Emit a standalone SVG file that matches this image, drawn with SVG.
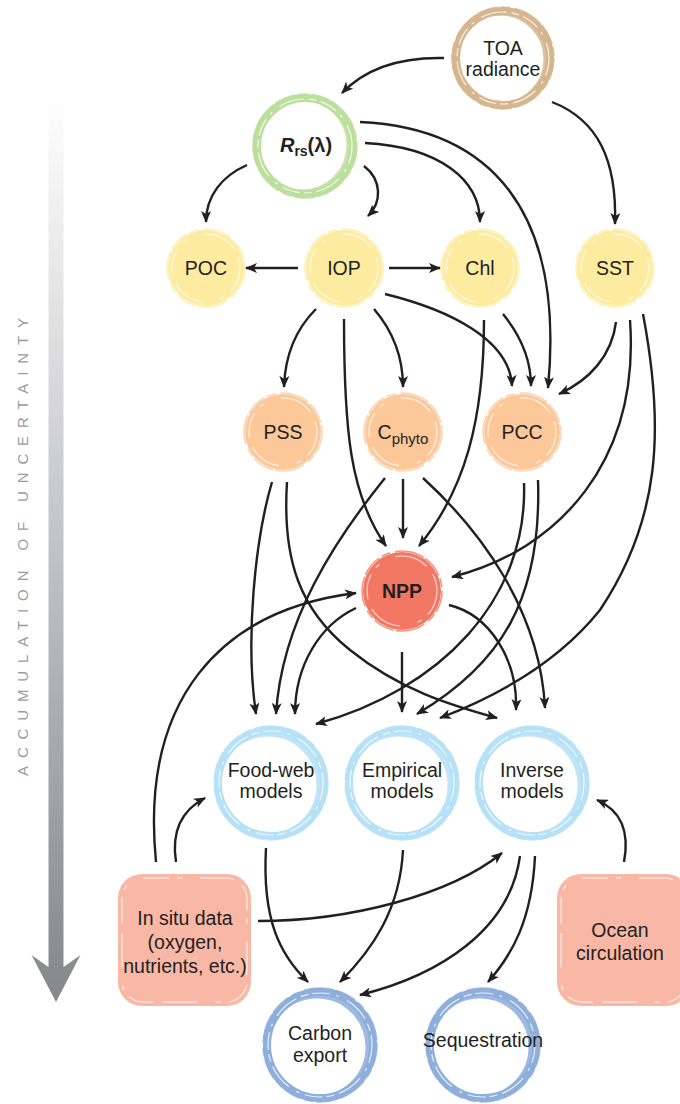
<svg xmlns="http://www.w3.org/2000/svg" width="680" height="1104" viewBox="0 0 680 1104">
<defs>
<linearGradient id="gArrow" x1="0" y1="95" x2="0" y2="1000" gradientUnits="userSpaceOnUse">
<stop offset="0" stop-color="#ffffff"/><stop offset="1" stop-color="#86878b"/>
</linearGradient>
<marker id="ah" viewBox="0 0 12 10" refX="11" refY="5" markerWidth="12" markerHeight="10" markerUnits="userSpaceOnUse" orient="auto">
<path d="M0,0 L12,5 L0,10 L3,5 Z" fill="#231f20"/>
</marker>
<style>
text{font-family:"Liberation Sans",Arial,sans-serif;font-size:19.5px;fill:#231f20;text-anchor:middle}
.ring{fill:none;stroke-width:8}
.ring2{fill:none;stroke-width:5;opacity:.85}
.tex{fill:none;stroke:#fff;stroke-width:1.2;stroke-dasharray:18 6 3 9 26 5 8 4;opacity:.8}
.fringe{fill:none;stroke-width:1.5;stroke-dasharray:22 3 9 5 30 2;opacity:.8}
.tan{stroke:#d5b68f}
.green{stroke:#bcdf9d}
.lblue{stroke:#b6e1f6}
.dblue{stroke:#8eaedb}
.yel{fill:#fdeca0}
.ora{fill:#fcc89a}
.npp{fill:#f27864}
.box{fill:#f9b8a6}
.ftex{fill:none;stroke:#fff;stroke-width:1.4;stroke-dasharray:26 8 5 18 34 10;opacity:.6}
.conn path{fill:none;stroke:#231f20;stroke-width:2.4;marker-end:url(#ah)}
</style>
</defs>

<g id="uncertainty-arrow">
<path d="M48.5,95 L63.5,95 L63.5,967 L80.5,955 L56,1002 L31.5,955 L48.5,967 Z" fill="url(#gArrow)"/>
<text transform="translate(28,547) rotate(-90)" style="font-size:15px;fill:#9c9c9c" textLength="458" lengthAdjust="spacing">ACCUMULATION OF UNCERTAINTY</text>
</g>

<g id="toa">
<circle class="ring tan" cx="503" cy="58" r="47"/>
<circle class="ring2 tan" cx="500" cy="59" r="46"/>
<circle class="fringe tan" cx="503" cy="58" r="51"/>
<circle class="tex" cx="503" cy="58" r="46"/>
<text x="503" y="55">TOA</text>
<text x="503" y="76">radiance</text>
</g>

<g id="rrs">
<circle class="ring green" cx="305" cy="146" r="48"/>
<circle class="ring2 green" cx="302" cy="145" r="47"/>
<circle class="fringe green" cx="305" cy="146" r="52"/>
<circle class="tex" cx="305" cy="146" r="47"/>
<text x="306" y="152" style="font-weight:bold;font-size:20px"><tspan style="font-style:italic">R</tspan><tspan dy="4" style="font-size:14px">rs</tspan><tspan dy="-4">(λ)</tspan></text>
</g>

<g id="poc">
<circle class="yel" cx="206" cy="268" r="38"/>
<circle class="fringe" style="stroke:#fdeca0" cx="206" cy="268" r="39"/>
<circle class="ftex" cx="206" cy="268" r="34"/>
<text x="206" y="275">POC</text>
</g>
<g id="iop">
<circle class="yel" cx="344" cy="268" r="38"/>
<circle class="fringe" style="stroke:#fdeca0" cx="344" cy="268" r="39"/>
<circle class="ftex" cx="344" cy="268" r="34"/>
<text x="344" y="275">IOP</text>
</g>
<g id="chl">
<circle class="yel" cx="480" cy="268" r="38"/>
<circle class="fringe" style="stroke:#fdeca0" cx="480" cy="268" r="39"/>
<circle class="ftex" cx="480" cy="268" r="34"/>
<text x="480" y="275">Chl</text>
</g>
<g id="sst">
<circle class="yel" cx="615" cy="268" r="38"/>
<circle class="fringe" style="stroke:#fdeca0" cx="615" cy="268" r="39"/>
<circle class="ftex" cx="615" cy="268" r="34"/>
<text x="615" y="275">SST</text>
</g>

<g id="pss">
<circle class="ora" cx="283" cy="432" r="38"/>
<circle class="fringe" style="stroke:#fcc89a" cx="283" cy="432" r="39"/>
<circle class="ftex" cx="283" cy="432" r="34"/>
<text x="283" y="439">PSS</text>
</g>
<g id="cphyto">
<circle class="ora" cx="403" cy="432" r="38"/>
<circle class="fringe" style="stroke:#fcc89a" cx="403" cy="432" r="39"/>
<circle class="ftex" cx="403" cy="432" r="34"/>
<text x="403" y="439">C<tspan dy="5" style="font-size:15px">phyto</tspan></text>
</g>
<g id="pcc">
<circle class="ora" cx="522" cy="432" r="38"/>
<circle class="fringe" style="stroke:#fcc89a" cx="522" cy="432" r="39"/>
<circle class="ftex" cx="522" cy="432" r="34"/>
<text x="522" y="439">PCC</text>
</g>

<g id="npp">
<circle class="npp" cx="402" cy="591" r="39"/>
<circle class="fringe" style="stroke:#f27864" cx="402" cy="591" r="40"/>
<circle class="ftex" cx="402" cy="591" r="35"/>
<text x="402" y="598" style="font-weight:bold">NPP</text>
</g>

<g id="food-web">
<circle class="ring lblue" cx="271" cy="783" r="53"/>
<circle class="ring2 lblue" cx="268" cy="785" r="51"/>
<circle class="fringe lblue" cx="271" cy="783" r="57"/>
<circle class="tex" cx="271" cy="783" r="52"/>
<text x="271" y="777">Food-web</text>
<text x="271" y="798">models</text>
</g>
<g id="empirical">
<circle class="ring lblue" cx="402" cy="783" r="53"/>
<circle class="ring2 lblue" cx="399" cy="785" r="51"/>
<circle class="fringe lblue" cx="402" cy="783" r="57"/>
<circle class="tex" cx="402" cy="783" r="52"/>
<text x="402" y="777">Empirical</text>
<text x="402" y="798">models</text>
</g>
<g id="inverse">
<circle class="ring lblue" cx="532" cy="783" r="53"/>
<circle class="ring2 lblue" cx="529" cy="785" r="51"/>
<circle class="fringe lblue" cx="532" cy="783" r="57"/>
<circle class="tex" cx="532" cy="783" r="52"/>
<text x="532" y="777">Inverse</text>
<text x="532" y="798">models</text>
</g>

<g id="in-situ">
<rect class="box" x="118" y="874" width="133" height="132" rx="24"/>
<rect x="122" y="878" width="125" height="124" rx="21" class="ftex"/>
<text x="185" y="925">In situ data</text>
<text x="185" y="949">(oxygen,</text>
<text x="185" y="973">nutrients, etc.)</text>
</g>
<g id="ocean">
<rect class="box" x="557" y="874" width="133" height="132" rx="24"/>
<rect x="561" y="878" width="125" height="124" rx="21" class="ftex"/>
<text x="620" y="937">Ocean</text>
<text x="620" y="960">circulation</text>
</g>

<g id="carbon-export">
<circle class="ring dblue" cx="320" cy="1045" r="53"/>
<circle class="ring2 dblue" cx="317" cy="1047" r="51"/>
<circle class="fringe dblue" cx="320" cy="1045" r="57"/>
<circle class="tex" cx="320" cy="1045" r="52"/>
<text x="320" y="1040">Carbon</text>
<text x="320" y="1062">export</text>
</g>
<g id="sequestration">
<circle class="ring dblue" cx="483" cy="1045" r="53"/>
<circle class="ring2 dblue" cx="480" cy="1047" r="51"/>
<circle class="fringe dblue" cx="483" cy="1045" r="57"/>
<circle class="tex" cx="483" cy="1045" r="52"/>
<text x="483" y="1047">Sequestration</text>
</g>

<g id="connectors" class="conn">
<path d="M444,58 C400,57 366,68 342,93"/>
<path d="M552,102 C598,120 617,160 615,224"/>
<path d="M247,165 C222,176 206,196 206,222"/>
<path d="M364,166 C382,180 382,202 368,216"/>
<path d="M365,143 C440,147 480,180 480,222"/>
<path d="M360,122 C490,128 565,210 548,388"/>
<path d="M298,268 L246,268"/>
<path d="M389,268 L440,268"/>
<path d="M316,309 C295,330 285,355 284,387"/>
<path d="M374,309 C392,330 403,355 403,387"/>
<path d="M344,319 C344,430 350,495 386,546"/>
<path d="M385,294 C450,310 510,340 512,386"/>
<path d="M484,320 C484,420 465,490 419,546"/>
<path d="M503,314 C520,335 531,360 531,386"/>
<path d="M616,322 C612,355 590,380 559,394"/>
<path d="M630,320 C640,460 560,550 452,577"/>
<path d="M643,314 C665,430 660,520 600,610 C560,660 500,695 440,718"/>
<path d="M272,482 C255,540 245,640 256,714"/>
<path d="M287,482 C282,560 300,610 350,650 C400,690 450,705 497,718"/>
<path d="M385,478 C335,540 282,620 276,714"/>
<path d="M403,479 L403,538"/>
<path d="M423,478 C480,530 540,610 545,708"/>
<path d="M356,608 C320,625 295,665 295,714"/>
<path d="M402,652 L402,712"/>
<path d="M449,605 C490,615 518,660 516,710"/>
<path d="M524,483 C528,600 440,690 316,724"/>
<path d="M538,480 C542,600 500,665 417,714"/>
<path d="M156,862 C140,700 220,610 356,593"/>
<path d="M176,862 C171,830 182,810 205,798"/>
<path d="M258,921 C350,921 450,895 502,853"/>
<path d="M266,848 C262,920 280,955 308,982"/>
<path d="M403,850 C400,910 372,950 340,982"/>
<path d="M520,856 C510,930 440,975 360,995"/>
<path d="M535,856 C532,920 512,955 488,982"/>
<path d="M624,862 C630,830 620,810 597,800"/>
</g>
</svg>
